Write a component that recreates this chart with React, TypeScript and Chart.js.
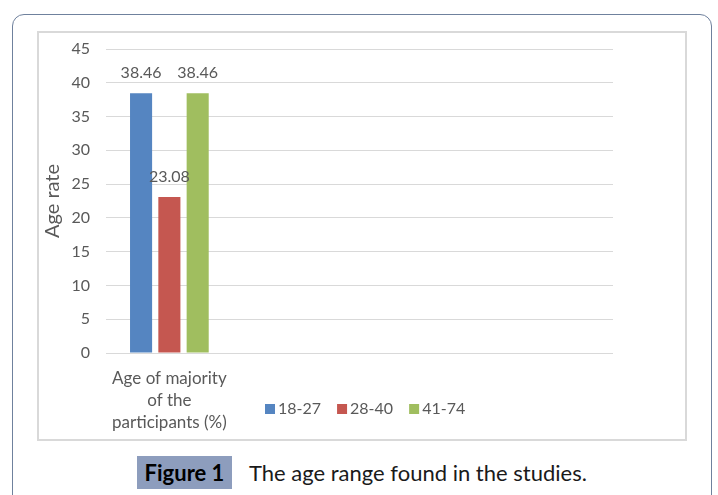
import React, { useEffect, useRef } from "react";
import { Chart, registerables } from "chart.js";

Chart.register(...registerables);

const categories: (string | string[])[] = [["Age of majority", "of the", "participants (%)"], "", "", ""];
const seriesNames = ["18-27", "28-40", "41-74"];
const series1827 = [38.46, null, null, null];
const series2840 = [23.08, null, null, null];
const series4174 = [38.46, null, null, null];
const seriesColors = ["#5585c1", "#c55750", "#a0be5f"];
const yTicksMin = 0;
const yTicksMax = 45;
const yTicksStep = 5;
const yTitle = "Age rate";
const captionLabel = "Figure 1";
const captionText = "The age range found in the studies.";

const FONT = "Lato, 'Noto Sans', sans-serif";
const GRAY = "#595959";

const labelsAndLegend = {
  id: "labelsAndLegend",
  afterDatasetsDraw(chart: any) {
    const ctx = chart.ctx;
    ctx.save();
    ctx.font = `16px ${FONT}`;
    ctx.fillStyle = GRAY;
    ctx.textAlign = "center";
    ctx.textBaseline = "middle";
    chart.data.datasets.forEach((ds: any, i: number) => {
      const meta = chart.getDatasetMeta(i);
      meta.data.forEach((bar: any, j: number) => {
        const v = ds.data[j];
        if (v === null || v === undefined) return;
        ctx.fillText(v.toFixed(2), bar.x, bar.y - 20);
      });
    });
    // legend
    let x = 226;
    const y = 376;
    ctx.textAlign = "left";
    ctx.textBaseline = "middle";
    chart.data.datasets.forEach((ds: any) => {
      ctx.fillStyle = ds.backgroundColor;
      ctx.fillRect(x, y - 5, 10, 10);
      ctx.fillStyle = GRAY;
      ctx.fillText(ds.label, x + 13, y);
      x += 13 + ctx.measureText(ds.label).width + 16;
    });
    ctx.restore();
  },
};

function ChartBox() {
  const ref = useRef<HTMLCanvasElement | null>(null);
  useEffect(() => {
    if (!ref.current) return;
    const data = [series1827, series2840, series4174];
    const chart = new Chart(ref.current, {
      type: "bar",
      data: {
        labels: categories as any,
        datasets: seriesNames.map((n, i) => ({
          label: n,
          data: data[i] as any,
          backgroundColor: seriesColors[i],
          borderWidth: 0,
          categoryPercentage: 0.67,
          barPercentage: 0.78,
        })),
      },
      options: {
        responsive: false,
        maintainAspectRatio: false,
        animation: false,
        layout: { padding: { left: 0, top: 16, right: 72, bottom: 0 } },
        plugins: {
          legend: { display: false },
          tooltip: { enabled: false },
        },
        scales: {
          x: {
            grid: { display: false, drawTicks: false },
            border: { display: false },
            ticks: {
              font: { family: FONT, size: 17, lineHeight: 1.3 },
              color: GRAY,
              padding: 14,
              maxRotation: 0,
              autoSkip: false,
            },
            afterFit: (s: any) => {
              s.height = 86;
              s.paddingLeft = 0;
              s.paddingRight = 0;
            },
          },
          y: {
            min: yTicksMin,
            max: yTicksMax,
            grid: { color: "#d9d9d9", lineWidth: 1, drawTicks: false },
            border: { display: false },
            ticks: {
              stepSize: yTicksStep,
              font: { family: FONT, size: 16 },
              color: GRAY,
              padding: 16,
            },
            title: {
              display: true,
              text: yTitle,
              font: { family: FONT, size: 20 },
              color: GRAY,
              padding: { top: 2, bottom: 0 },
            },
            afterFit: (s: any) => {
              s.width = 67;
              s.paddingTop = 0;
              s.paddingBottom = 0;
            },
          },
        },
      },
      plugins: [labelsAndLegend],
    });
    return () => chart.destroy();
  }, []);
  return <canvas ref={ref} width={646} height={406} style={{ display: "block" }} />;
}

export default function App() {
  return (
    <div
      style={{
        position: "fixed",
        left: 0,
        top: 0,
        width: 718,
        height: 495,
        overflow: "hidden",
        background: "#ffffff",
        fontFamily: FONT,
      }}
    >
      <div
        style={{
          position: "absolute",
          left: 12,
          top: 14,
          width: 698,
          height: 520,
          border: "1.5px solid #6f819d",
          borderRadius: 12,
        }}
      />
      <div
        style={{
          position: "absolute",
          left: 37,
          top: 31,
          width: 646,
          height: 406,
          border: "2px solid #d9d9d9",
        }}
      >
        <ChartBox />
      </div>
      <div
        style={{
          position: "absolute",
          left: 137,
          top: 456,
          width: 95,
          height: 33,
          background: "#8d9dbd",
          color: "#000",
          fontWeight: 700,
          fontSize: 22,
          lineHeight: "33px",
          textAlign: "center",
        }}
      >
        {captionLabel}
      </div>
      <div
        style={{
          position: "absolute",
          left: 249,
          top: 456,
          height: 33,
          lineHeight: "33px",
          fontSize: 22,
          color: "#1a1a1a",
          whiteSpace: "nowrap",
        }}
      >
        {captionText}
      </div>
    </div>
  );
}
